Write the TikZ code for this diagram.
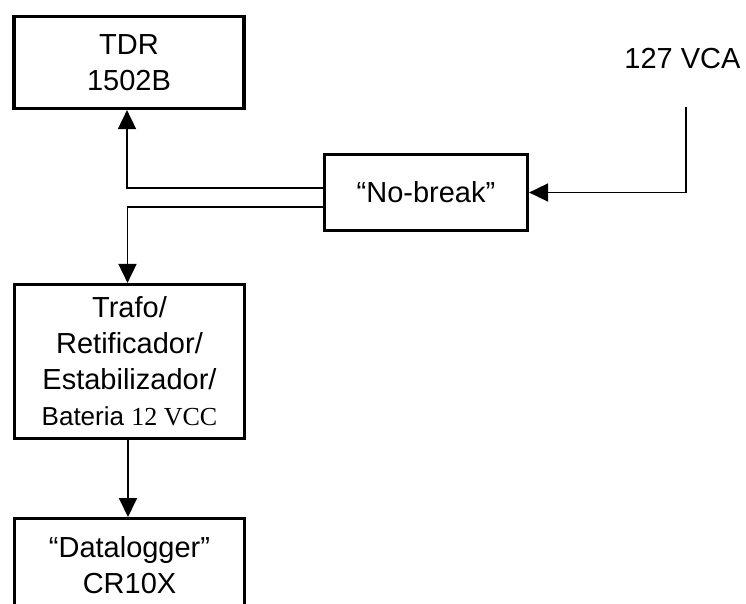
\documentclass[tikz,border=0pt]{standalone}
\usepackage{fontspec}
\setmainfont{Liberation Sans}
\newfontfamily\serifnum{Liberation Serif}
\usetikzlibrary{arrows.meta}
\begin{document}
\begin{tikzpicture}[x=1pt,y=-1pt,
  box/.style={draw,line width=3.2pt,align=center,inner sep=0pt,
    font=\fontsize{29}{36}\selectfont},
  label/.style={align=center,inner sep=0pt,font=\fontsize{29}{36}\selectfont},
  conn/.style={line width=1.8pt,-{Triangle[length=19pt,width=18pt]}}]
\useasboundingbox (0,0) rectangle (746,603);

% blocks
\node[box,minimum width=230pt,minimum height=92pt] (tdr) at (129,62.5) {TDR\\1502B};
\node[box,minimum width=230pt,minimum height=154pt] (trafo) at (129.5,361.5)
  {Trafo/\\Retificador/\\Estabilizador/\\{\fontsize{26}{32}\selectfont Bateria {\serifnum 12 VCC}}};
\node[box,minimum width=203pt,minimum height=76pt] (nb) at (426,192.5) {“No-break”};
\node[label] (vca) at (682.5,59) {127 VCA};

% datalogger block, open at the lower edge
\draw[line width=3.2pt] (14.5,615) -- (14.5,518.5) -- (244.5,518.5) -- (244.5,615);
\coordinate (dltop) at (129.5,517);
\node[label] (dl) at (129.5,565) {“Datalogger”\\CR10X};

% power wiring
\coordinate (vin) at (686,107);
\draw[conn] (vin) |- (nb.east);
\draw[conn] ([yshift=4.5pt]nb.west) -| ([xshift=-2pt]tdr.south);
\draw[conn] ([yshift=-14.5pt]nb.west) -| ([xshift=-2pt]trafo.north);
\draw[conn] ([xshift=-1.5pt]trafo.south) -- ([xshift=-1.5pt]dltop);
\end{tikzpicture}
\end{document}
